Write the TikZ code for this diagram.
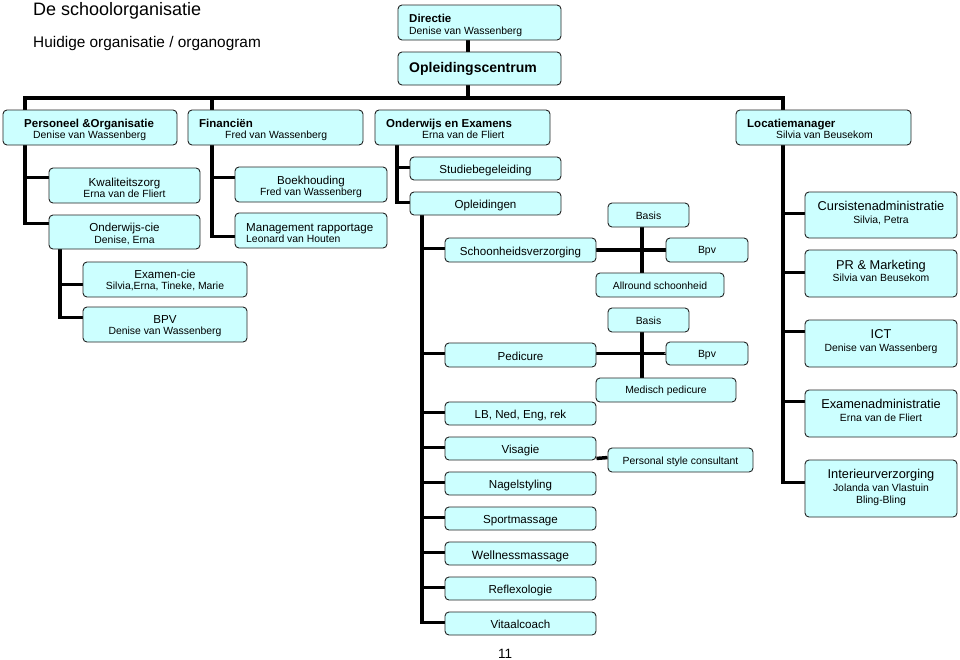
\documentclass[tikz,border=0pt]{standalone}
\usepackage{fontspec}
\setmainfont{Liberation Sans}
\usetikzlibrary{fit,calc,backgrounds}
\definecolor{boxfill}{HTML}{CCFFFF}
\definecolor{boxline}{HTML}{222222}
\newcommand\fTitle{\fontsize{18}{21}\selectfont}
\newcommand\fSubT{\fontsize{15.4}{18}\selectfont}
\newcommand\fHead{\fontsize{11.5}{13}\selectfont\bfseries}
\newcommand\fName{\fontsize{10.4}{12}\selectfont}
\newcommand\fMain{\fontsize{11.6}{13}\selectfont}
\newcommand\fWell{\fontsize{12}{14}\selectfont}
\newcommand\fBig{\fontsize{12.8}{15}\selectfont}
\newcommand\fOpl{\fontsize{14}{16}\selectfont\bfseries}
\newcommand\fPg{\fontsize{13.5}{16}\selectfont}
\newcommand\obox[5]{\node[obx, fit={(#2,#3) (#4,#5)}] (#1) {};}
\newcommand\txl[5]{\node[txt, anchor=base west, font=#4] (#1) at (#2,#3) {#5};}
\newcommand\txc[5]{\node[txt, anchor=base, font=#4] (#1) at (#2,#3) {#5};}
\begin{document}
\begin{tikzpicture}[x=1pt,y=-1pt,
  obx/.style={draw=boxline, line width=0.9pt, fill=boxfill, rounded corners=4pt, inner sep=0pt},
  conn/.style={line width=3.5pt, black},
  txt/.style={inner sep=0pt, text=black}]
\useasboundingbox (0,0) rectangle (960,659);

% boxes
\obox{dir}{398}{5}{561}{40}
\obox{opl}{398}{52}{561}{85}
\obox{per}{3}{110}{177}{145}
\obox{fin}{188}{110}{363}{145}
\obox{onw}{375}{110}{550}{145}
\obox{loc}{736}{110}{911}{145}
\obox{kwa}{49}{168}{200}{203}
\obox{ocie}{49}{215}{200}{249}
\obox{exc}{83}{262}{247}{297}
\obox{bpv}{83}{307}{247}{342}
\obox{boek}{235}{167}{387}{202}
\obox{mgmt}{235}{213}{387}{248}
\obox{stud}{410}{157}{561}{180}
\obox{ople}{410}{192}{561}{215}
\obox{schv}{445}{238}{596}{262}
\obox{basisA}{608}{203}{689}{227}
\obox{bpvA}{666}{238}{748}{262}
\obox{allr}{596}{273}{724}{297}
\obox{basisB}{608}{308}{689}{332}
\obox{pedi}{445}{343}{596}{367}
\obox{bpvB}{666}{342}{748}{365}
\obox{medp}{596}{378}{736}{402}
\obox{lb}{445}{402}{596}{425}
\obox{visa}{445}{437}{596}{460}
\obox{psc}{608}{448}{753}{472}
\obox{nagel}{445}{472}{596}{495}
\obox{sport}{445}{507}{596}{530}
\obox{well}{445}{542}{596}{565}
\obox{refl}{445}{577}{596}{600}
\obox{vita}{445}{612}{596}{635}
\obox{curs}{805}{192}{957}{238}
\obox{pr}{805}{250}{957}{297}
\obox{ict}{805}{320}{957}{367}
\obox{exa}{805}{390}{957}{437}
\obox{inter}{805}{460}{957}{517}

% connectors
\coordinate (xO) at (468,0);
\coordinate (xP) at (25,0);
\coordinate (xF) at (212,0);
\coordinate (xE) at (397,0);
\coordinate (xL) at (783,0);
\coordinate (xC) at (60,0);
\coordinate (xS) at (422,0);
\coordinate (xB) at (642,0);
\coordinate (yBar) at (0,98);
\begin{pgfonlayer}{background}
\draw[conn] (dir.south -| xO) -- (opl.north -| xO);
\draw[conn] (opl.south -| xO) -- (xO |- yBar);
\draw[conn] (per.north -| xP) -- (xP |- yBar) -- (xL |- yBar) -- (loc.north -| xL);
\draw[conn] (xF |- yBar) -- (fin.north -| xF);
\draw[conn] (per.south -| xP) |- ($(kwa.north west)+(0,10)$);
\draw[conn] (per.south -| xP) |- ($(ocie.north west)+(0,9)$);
\draw[conn] (ocie.south -| xC) |- ($(exc.north west)+(0,23)$);
\draw[conn] (ocie.south -| xC) |- ($(bpv.north west)+(0,11)$);
\draw[conn] (fin.south -| xF) |- ($(boek.north west)+(0,11)$);
\draw[conn] (fin.south -| xF) |- ($(mgmt.north west)+(0,24)$);
\draw[conn] (onw.south -| xE) |- ($(stud.north west)+(0,11)$);
\draw[conn] (onw.south -| xE) |- ($(ople.north west)+(0,11)$);
\foreach \c in {schv,pedi,lb,visa,nagel,sport,well,refl,vita}
  \draw[conn] (ople.south -| xS) |- ($(\c.north west)+(0,11)$);
\draw[conn] (schv.east) -- (bpvA.west);
\draw[conn] (basisA.south -| xB) -- (allr.north -| xB);
\draw[conn] ($(pedi.north east)+(0,11)$) -| (bpvB.west);
\draw[conn] (basisB.south -| xB) -- (medp.north -| xB);
\draw[conn] ($(visa.south east)+(0,-2)$) -- ($(psc.north west)+(0,10)$);
\draw[conn] (loc.south -| xL) |- ($(curs.north west)+(0,22)$);
\draw[conn] (loc.south -| xL) |- ($(pr.north west)+(0,23)$);
\draw[conn] (loc.south -| xL) |- ($(ict.north west)+(0,12)$);
\draw[conn] (loc.south -| xL) |- ($(exa.north west)+(0,12)$);
\draw[conn] (loc.south -| xL) |- ($(inter.north west)+(0,23)$);
\end{pgfonlayer}

% texts
\txl{t-title}{33}{15}{\fTitle}{De schoolorganisatie}
\txl{t-subt}{33}{47}{\fSubT}{Huidige organisatie / organogram}
\txl{t-dir1}{409}{22}{\fHead}{Directie}
\txl{t-dir2}{409}{34}{\fName}{Denise van Wassenberg}
\txl{t-opl}{409}{72}{\fOpl}{Opleidingscentrum}
\txl{t-per1}{24}{127}{\fHead}{Personeel \&Organisatie}
\txl{t-per2}{33}{138}{\fName}{Denise van Wassenberg}
\txl{t-fin1}{199}{127}{\fHead}{Financiën}
\txl{t-fin2}{225}{138}{\fName}{Fred van Wassenberg}
\txl{t-onw1}{386}{127}{\fHead}{Onderwijs en Examens}
\txl{t-onw2}{422}{138}{\fName}{Erna van de Fliert}
\txl{t-loc1}{747}{127}{\fHead}{Locatiemanager}
\txl{t-loc2}{776}{138}{\fName}{Silvia van Beusekom}

\txc{t-kwa1}{124.5}{186}{\fMain}{Kwaliteitszorg}
\txc{t-kwa2}{124.5}{197}{\fName}{Erna van de Fliert}
\txc{t-oc1}{124.5}{231}{\fMain}{Onderwijs-cie}
\txc{t-oc2}{124.5}{243}{\fName}{Denise, Erna}
\txc{t-exc1}{165}{278}{\fMain}{Examen-cie}
\txc{t-exc2}{165}{289}{\fName}{Silvia,Erna, Tineke, Marie}
\txc{t-bpv1}{165}{323}{\fMain}{BPV}
\txc{t-bpv2}{165}{334}{\fName}{Denise van Wassenberg}
\txc{t-boek1}{311}{184}{\fMain}{Boekhouding}
\txc{t-boek2}{311}{195}{\fName}{Fred van Wassenberg}
\txl{t-mg1}{246}{231}{\fMain}{Management rapportage}
\txl{t-mg2}{246}{242}{\fName}{Leonard van Houten}

\txc{t-cu1}{881}{210}{\fBig}{Cursistenadministratie}
\txc{t-cu2}{881}{223}{\fName}{Silvia, Petra}
\txc{t-pr1}{881}{269}{\fBig}{PR \& Marketing}
\txc{t-pr2}{881}{281}{\fName}{Silvia van Beusekom}
\txc{t-ict1}{881}{338}{\fBig}{ICT}
\txc{t-ict2}{881}{351}{\fName}{Denise van Wassenberg}
\txc{t-exa1}{881}{408}{\fBig}{Examenadministratie}
\txc{t-exa2}{881}{421}{\fName}{Erna van de Fliert}
\txc{t-in1}{881}{478}{\fBig}{Interieurverzorging}
\txc{t-in2}{881}{491}{\fName}{Jolanda van Vlastuin}
\txc{t-in3}{881}{503}{\fName}{Bling-Bling}

\txc{t-stud}{485.5}{173}{\fMain}{Studiebegeleiding}
\txc{t-ople}{485.5}{208}{\fMain}{Opleidingen}
\txc{t-schv}{520.5}{255}{\fMain}{Schoonheidsverzorging}
\txc{t-basA}{648.5}{219}{\fName}{Basis}
\txc{t-bpvA}{707}{253}{\fName}{Bpv}
\txc{t-allr}{660}{289}{\fName}{Allround schoonheid}
\txc{t-basB}{648.5}{324}{\fName}{Basis}
\txc{t-pedi}{520.5}{360}{\fMain}{Pedicure}
\txc{t-bpvB}{707}{357}{\fName}{Bpv}
\txc{t-medp}{666}{393}{\fName}{Medisch pedicure}
\txc{t-lb}{520.5}{418}{\fMain}{LB, Ned, Eng, rek}
\txc{t-visa}{520.5}{453}{\fMain}{Visagie}
\txc{t-psc}{680.5}{464}{\fName}{Personal style consultant}
\txc{t-nag}{520.5}{488}{\fMain}{Nagelstyling}
\txc{t-spo}{520.5}{523}{\fMain}{Sportmassage}
\txc{t-wel}{520.5}{559}{\fWell}{Wellnessmassage}
\txc{t-ref}{520.5}{593}{\fMain}{Reflexologie}
\txc{t-vit}{520.5}{628}{\fMain}{Vitaalcoach}
\txc{t-pg}{505}{658}{\fPg}{11}
\end{tikzpicture}
\end{document}
